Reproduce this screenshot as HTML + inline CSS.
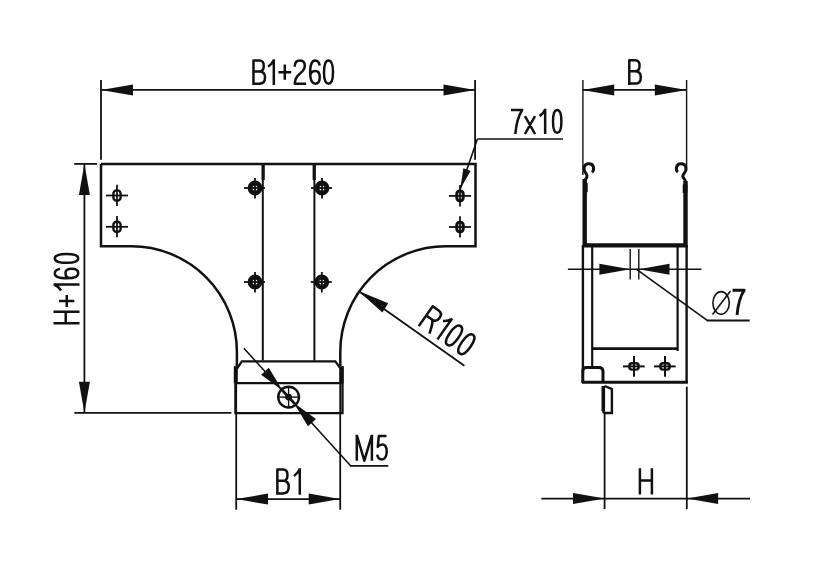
<!DOCTYPE html>
<html><head><meta charset="utf-8"><style>
html,body{margin:0;padding:0;background:#fff;width:813px;height:569px;overflow:hidden}
svg{display:block}
text{font-family:"Liberation Sans",sans-serif;fill:#111}
</style></head><body>
<svg width="813" height="569" viewBox="0 0 813 569">
<g stroke="#111" stroke-linecap="butt">
<line x1="101.00" y1="80.00" x2="101.00" y2="159.80" stroke-width="1.8"/>
<line x1="475.10" y1="80.00" x2="475.10" y2="159.80" stroke-width="1.8"/>
<line x1="101.00" y1="89.90" x2="475.10" y2="89.90" stroke-width="1.8"/>
<polygon points="101.00,89.90 133.00,95.40 133.00,84.40" fill="#111" stroke="none"/>
<polygon points="475.10,89.90 443.50,84.40 443.50,95.40" fill="#111" stroke="none"/>
<path d="M253.48,85.00 L253.48,60.49 L259.38,60.49 C262.20,60.49 263.74,62.30 263.74,65.91 C263.74,69.26 261.94,71.45 259.12,71.45 L253.48,71.45 M259.12,71.45 C262.71,71.45 265.02,73.39 265.02,77.26 C265.02,81.39 262.71,83.71 259.38,83.71 L253.48,83.71 M273.81,85.00 L273.81,59.20 M273.81,59.97 C272.79,62.55 270.73,64.88 268.16,66.68 M278.40,72.36 L291.20,72.36 M284.80,64.62 L284.80,79.84 M294.70,66.68 C294.70,62.81 296.77,60.49 299.88,60.49 C302.99,60.49 304.80,62.55 304.80,65.91 C304.80,69.00 302.99,71.07 299.88,73.65 C296.51,76.23 294.96,79.32 294.70,83.71 L306.10,83.71 M319.71,65.65 C319.20,62.30 317.40,60.49 315.08,60.49 C311.73,60.49 310.19,64.36 310.19,72.62 C310.19,80.61 312.25,83.71 315.34,83.71 C318.17,83.71 319.71,81.13 319.71,77.26 C319.71,73.39 317.91,71.07 315.34,71.07 C312.50,71.07 310.44,73.13 310.19,76.23 M328.50,60.49 C331.46,60.49 333.01,64.88 333.01,72.10 C333.01,79.32 331.46,83.71 328.50,83.71 C325.54,83.71 323.99,79.32 323.99,72.10 C323.99,64.88 325.54,60.49 328.50,60.49 Z" stroke-width="2.5" fill="none" stroke-linejoin="round"/>
<path d="M101,164 H475.5 V246.3 H445.8 A105.5,105.5 0 0 0 340.3,351.8 V366" stroke-width="2.5" fill="none" />
<path d="M101,164 V246.3 H131.4 A105.5,105.5 0 0 1 236.9,351.8 V366" stroke-width="2.5" fill="none" />
<line x1="262.80" y1="164.00" x2="262.80" y2="360.50" stroke-width="2.0"/>
<line x1="314.40" y1="164.00" x2="314.40" y2="360.50" stroke-width="2.0"/>
<line x1="263.20" y1="164.00" x2="263.20" y2="180.00" stroke-width="3.2"/>
<line x1="314.20" y1="164.00" x2="314.20" y2="180.00" stroke-width="3.2"/>
<rect x="113.4" y="190.4" width="7.2" height="10.2" rx="3.06" ry="3.06" stroke-width="2.4" fill="none"/>
<line x1="106.00" y1="195.50" x2="128.00" y2="195.50" stroke-width="1.8"/>
<line x1="117.00" y1="184.70" x2="117.00" y2="206.00" stroke-width="1.8"/>
<rect x="113.4" y="221.70000000000002" width="7.2" height="10.2" rx="3.06" ry="3.06" stroke-width="2.4" fill="none"/>
<line x1="106.00" y1="226.80" x2="128.00" y2="226.80" stroke-width="1.8"/>
<line x1="117.00" y1="216.00" x2="117.00" y2="237.30" stroke-width="1.8"/>
<rect x="456.8" y="191.1" width="6.4" height="9.6" rx="2.72" ry="2.72" stroke-width="3.0" fill="none"/>
<line x1="449.00" y1="195.90" x2="471.00" y2="195.90" stroke-width="1.8"/>
<line x1="460.00" y1="185.10" x2="460.00" y2="206.40" stroke-width="1.8"/>
<rect x="456.8" y="222.2" width="6.4" height="9.6" rx="2.72" ry="2.72" stroke-width="3.0" fill="none"/>
<line x1="449.00" y1="227.00" x2="471.00" y2="227.00" stroke-width="1.8"/>
<line x1="460.00" y1="216.20" x2="460.00" y2="237.50" stroke-width="1.8"/>
<circle cx="255" cy="188" r="5.0" stroke-width="4.8" fill="none"/>
<line x1="244.00" y1="188.00" x2="265.00" y2="188.00" stroke-width="1.8"/>
<line x1="255.00" y1="178.00" x2="255.00" y2="198.50" stroke-width="1.8"/>
<circle cx="322" cy="188" r="5.0" stroke-width="4.8" fill="none"/>
<line x1="311.00" y1="188.00" x2="332.00" y2="188.00" stroke-width="1.8"/>
<line x1="322.00" y1="178.00" x2="322.00" y2="198.50" stroke-width="1.8"/>
<circle cx="255" cy="282" r="5.0" stroke-width="4.8" fill="none"/>
<line x1="244.00" y1="282.00" x2="265.00" y2="282.00" stroke-width="1.8"/>
<line x1="255.00" y1="272.00" x2="255.00" y2="292.50" stroke-width="1.8"/>
<circle cx="321.8" cy="282" r="5.0" stroke-width="4.8" fill="none"/>
<line x1="310.80" y1="282.00" x2="331.80" y2="282.00" stroke-width="1.8"/>
<line x1="321.80" y1="272.00" x2="321.80" y2="292.50" stroke-width="1.8"/>
<path d="M235.4,366 V413.2 H342.5 V366" stroke-width="2.3" fill="none" />
<path d="M235.4,371.2 L241.8,361.3 H335.3 L342.5,371" stroke-width="2.3" fill="none" />
<line x1="235.40" y1="383.20" x2="342.50" y2="383.20" stroke-width="2.3"/>
<rect x="233.8" y="366.4" width="4" height="16.8" fill="#111" stroke="none"/>
<rect x="339.2" y="366.4" width="4.4" height="16.8" fill="#111" stroke="none"/>
<line x1="236.20" y1="383.00" x2="236.20" y2="509.70" stroke-width="1.8"/>
<line x1="340.20" y1="383.00" x2="340.20" y2="509.70" stroke-width="1.8"/>
<line x1="74.30" y1="412.80" x2="231.40" y2="412.80" stroke-width="1.8"/>
<line x1="74.20" y1="163.90" x2="97.00" y2="163.90" stroke-width="1.8"/>
<line x1="84.40" y1="164.00" x2="84.40" y2="412.80" stroke-width="1.8"/>
<polygon points="84.40,164.00 78.90,195.00 89.90,195.00" fill="#111" stroke="none"/>
<polygon points="84.40,412.80 89.90,381.70 78.90,381.70" fill="#111" stroke="none"/>
<path d="M-323.24,53.50 L-323.24,79.50 M-311.66,53.50 L-311.66,79.50 M-323.24,65.72 L-311.66,65.72 M-306.90,66.76 L-295.00,66.76 M-300.95,58.96 L-300.95,74.30 M-284.48,79.50 L-284.48,53.50 M-284.48,54.28 C-285.57,56.88 -287.78,59.22 -290.53,61.04 M-268.87,60.00 C-269.37,56.62 -271.14,54.80 -273.42,54.80 C-276.71,54.80 -278.23,58.70 -278.23,67.02 C-278.23,75.08 -276.21,78.20 -273.17,78.20 C-270.39,78.20 -268.87,75.60 -268.87,71.70 C-268.87,67.80 -270.64,65.46 -273.17,65.46 C-275.96,65.46 -277.98,67.54 -278.23,70.66 M-258.40,54.80 C-255.54,54.80 -254.04,59.22 -254.04,66.50 C-254.04,73.78 -255.54,78.20 -258.40,78.20 C-261.26,78.20 -262.76,73.78 -262.76,66.50 C-262.76,59.22 -261.26,54.80 -258.40,54.80 Z" stroke-width="2.5" fill="none" stroke-linejoin="round" transform="rotate(-90)"/>
<line x1="236.20" y1="499.10" x2="340.00" y2="499.10" stroke-width="1.8"/>
<polygon points="236.20,499.10 268.00,504.60 268.00,493.60" fill="#111" stroke="none"/>
<polygon points="340.00,499.10 308.70,493.60 308.70,504.60" fill="#111" stroke="none"/>
<path d="M277.36,494.70 L277.36,469.62 L283.18,469.62 C285.96,469.62 287.47,471.47 287.47,475.16 C287.47,478.60 285.70,480.84 282.92,480.84 L277.36,480.84 M282.92,480.84 C286.46,480.84 288.74,482.82 288.74,486.78 C288.74,491.00 286.46,493.38 283.18,493.38 L277.36,493.38 M299.78,494.70 L299.78,468.30 M299.78,469.09 C298.72,471.73 296.61,474.11 293.96,475.96" stroke-width="2.5" fill="none" stroke-linejoin="round"/>
<circle cx="288.6" cy="397.1" r="10.4" stroke-width="2.4" fill="none"/>
<line x1="278.60" y1="397.10" x2="298.60" y2="397.10" stroke-width="1.4"/>
<line x1="288.60" y1="387.10" x2="288.60" y2="407.10" stroke-width="1.4"/>
<circle cx="288.6" cy="397.1" r="3.4" fill="#111" stroke="none"/>
<line x1="243.90" y1="348.30" x2="350.60" y2="465.80" stroke-width="1.6"/>
<line x1="350.00" y1="465.80" x2="388.30" y2="465.80" stroke-width="1.8"/>
<polygon points="282.52,390.46 268.79,367.78 261.12,374.80" fill="#111" stroke="none"/>
<polygon points="294.00,403.00 307.91,426.33 316.03,418.90" fill="#111" stroke="none"/>
<line x1="280.49" y1="388.25" x2="295.35" y2="404.47" stroke-width="2.6"/>
<path d="M356.80,460.70 L356.80,434.70 M356.80,435.22 L364.35,460.70 L371.90,435.22 M371.90,434.70 L371.90,460.70 M386.47,436.00 L378.81,436.00 L377.79,446.92 C378.81,445.36 380.34,444.58 382.13,444.58 C385.19,444.58 386.72,447.18 386.72,451.60 C386.72,456.28 384.68,459.40 381.87,459.40 C379.06,459.40 377.53,457.58 377.28,454.72" stroke-width="2.5" fill="none" stroke-linejoin="round"/>
<polygon points="358.50,291.10 382.39,312.47 388.21,303.13" fill="#111" stroke="none"/>
<line x1="358.50" y1="291.10" x2="464.40" y2="365.70" stroke-width="1.8"/>
<path d="M1.40,0.00 L1.40,-24.23 L8.66,-24.23 C12.01,-24.23 13.69,-22.18 13.69,-18.62 C13.69,-15.04 11.74,-13.00 8.38,-13.00 L1.40,-13.00 M8.38,-13.00 C10.06,-12.24 11.18,-10.71 14.53,0.00 M24.31,0.00 L24.31,-25.50 M24.31,-24.73 C23.19,-22.18 20.96,-19.89 18.16,-18.11 M35.62,-24.23 C38.84,-24.23 40.51,-19.89 40.51,-12.75 C40.51,-5.61 38.84,-1.27 35.62,-1.27 C32.41,-1.27 30.74,-5.61 30.74,-12.75 C30.74,-19.89 32.41,-24.23 35.62,-24.23 Z M50.71,-24.23 C53.93,-24.23 55.60,-19.89 55.60,-12.75 C55.60,-5.61 53.93,-1.27 50.71,-1.27 C47.50,-1.27 45.82,-5.61 45.82,-12.75 C45.82,-19.89 47.50,-24.23 50.71,-24.23 Z" stroke-width="2.5" fill="none" stroke-linejoin="round" transform="translate(417.6,325.3) rotate(35.3)"/>
<line x1="460.40" y1="188.60" x2="477.40" y2="139.00" stroke-width="1.6"/>
<line x1="477.40" y1="139.00" x2="563.00" y2="139.00" stroke-width="1.6"/>
<polygon points="460.40,188.60 470.68,170.88 463.32,168.32" fill="#111" stroke="none"/>
<path d="M511.00,110.06 L522.20,110.06 C518.89,115.10 516.35,122.66 515.33,134.00 M524.96,116.11 L535.04,134.00 M535.04,116.11 L524.96,134.00 M545.15,134.00 L545.15,108.80 M545.15,109.56 C544.15,112.08 542.15,114.34 539.65,116.11 M557.20,110.06 C559.96,110.06 561.40,114.34 561.40,121.40 C561.40,128.46 559.96,132.74 557.20,132.74 C554.44,132.74 553.00,128.46 553.00,121.40 C553.00,114.34 554.44,110.06 557.20,110.06 Z" stroke-width="2.5" fill="none" stroke-linejoin="round"/>
<line x1="582.90" y1="80.00" x2="582.90" y2="175.00" stroke-width="1.4"/>
<line x1="686.60" y1="80.00" x2="686.60" y2="171.00" stroke-width="1.4"/>
<line x1="582.60" y1="89.90" x2="686.80" y2="89.90" stroke-width="1.8"/>
<polygon points="582.60,89.90 614.20,95.40 614.20,84.40" fill="#111" stroke="none"/>
<polygon points="686.80,89.90 654.80,84.40 654.80,95.40" fill="#111" stroke="none"/>
<path d="M629.28,84.90 L629.28,60.30 L635.18,60.30 C638.00,60.30 639.54,62.11 639.54,65.73 C639.54,69.10 637.74,71.30 634.92,71.30 L629.28,71.30 M634.92,71.30 C638.51,71.30 640.82,73.25 640.82,77.13 C640.82,81.27 638.51,83.61 635.18,83.61 L629.28,83.61" stroke-width="2.5" fill="none" stroke-linejoin="round"/>
<path d="M584.7,179 V245.4 H685.5 V181" stroke-width="4.4" fill="none" />
<path d="M592,172.4 C594.5,170 594.5,163.5 588.5,163.8 C584,164 583.5,168 584.5,171 C585.5,173.5 588,175 587,177 C586,179 584.7,179.5 584.7,182" stroke-width="3.0" fill="none" />
<path d="M677.9,172 C675.5,170 675.5,163.5 681.5,163.8 C686,164 686.5,168 685.5,171 C684.5,173.5 682,175 683,177 C684,179 685.4,179.5 685.4,182" stroke-width="3.0" fill="none" />
<rect x="583" y="183" width="4.7" height="9.2" fill="#111" stroke="none"/>
<rect x="682.7" y="184.3" width="4.7" height="8.7" fill="#111" stroke="none"/>
<line x1="582.90" y1="245.00" x2="582.90" y2="372.00" stroke-width="2.4"/>
<line x1="686.60" y1="245.00" x2="686.60" y2="383.00" stroke-width="2.4"/>
<line x1="592.20" y1="247.00" x2="592.20" y2="367.00" stroke-width="2.2"/>
<line x1="677.60" y1="247.00" x2="677.60" y2="351.00" stroke-width="2.2"/>
<line x1="592.20" y1="348.60" x2="677.60" y2="348.60" stroke-width="2.6"/>
<line x1="582.00" y1="382.30" x2="687.80" y2="382.30" stroke-width="3.0"/>
<path d="M582.8,383 V371 Q582.8,367.4 586.5,367.4 H599 Q603,367.4 603,371.5 V382" stroke-width="3.0" fill="none" />
<rect x="629.3" y="363.2" width="9.4" height="6.4" rx="2.8" ry="2.8" stroke-width="2.4" fill="none"/>
<line x1="623.00" y1="366.40" x2="644.70" y2="366.40" stroke-width="2.0"/>
<line x1="634.00" y1="356.00" x2="634.00" y2="376.70" stroke-width="2.0"/>
<rect x="660.3" y="363.2" width="9.4" height="6.4" rx="2.8" ry="2.8" stroke-width="2.4" fill="none"/>
<line x1="654.00" y1="366.40" x2="675.70" y2="366.40" stroke-width="2.0"/>
<line x1="665.00" y1="356.00" x2="665.00" y2="376.70" stroke-width="2.0"/>
<path d="M603.3,386 V411 Q603.3,413 605.5,413 H611.9 V389 L604.5,386" stroke-width="2.4" fill="none" />
<line x1="603.30" y1="386.00" x2="603.30" y2="411.00" stroke-width="3.6"/>
<line x1="604.60" y1="414.00" x2="604.60" y2="509.10" stroke-width="1.8"/>
<line x1="686.80" y1="386.70" x2="686.80" y2="509.10" stroke-width="1.8"/>
<line x1="567.90" y1="269.20" x2="701.50" y2="269.20" stroke-width="1.4"/>
<polygon points="630.20,269.20 599.40,263.70 599.40,274.70" fill="#111" stroke="none"/>
<polygon points="638.80,269.20 669.50,274.70 669.50,263.70" fill="#111" stroke="none"/>
<line x1="630.20" y1="249.00" x2="630.20" y2="279.60" stroke-width="1.4"/>
<line x1="638.80" y1="249.00" x2="638.80" y2="279.60" stroke-width="1.4"/>
<line x1="636.30" y1="269.20" x2="707.20" y2="320.40" stroke-width="1.6"/>
<line x1="706.60" y1="320.50" x2="749.70" y2="320.50" stroke-width="1.8"/>
<ellipse cx="721.1" cy="302.9" rx="8.2" ry="11.3" stroke-width="1.6" fill="none"/>
<line x1="712.50" y1="314.50" x2="730.50" y2="291.00" stroke-width="1.6"/>
<path d="M732.50,290.30 L744.20,290.30 C740.74,295.50 738.08,303.30 737.02,315.00" stroke-width="2.9" fill="none" stroke-linejoin="round"/>
<line x1="541.30" y1="498.60" x2="750.00" y2="498.60" stroke-width="1.8"/>
<polygon points="605.00,498.60 573.00,493.10 573.00,504.10" fill="#111" stroke="none"/>
<polygon points="687.00,498.60 718.10,504.10 718.10,493.10" fill="#111" stroke="none"/>
<path d="M639.90,468.20 L639.90,494.50 M651.90,468.20 L651.90,494.50 M639.90,480.56 L651.90,480.56" stroke-width="2.5" fill="none" stroke-linejoin="round"/>
</g>
</svg>
</body></html>
